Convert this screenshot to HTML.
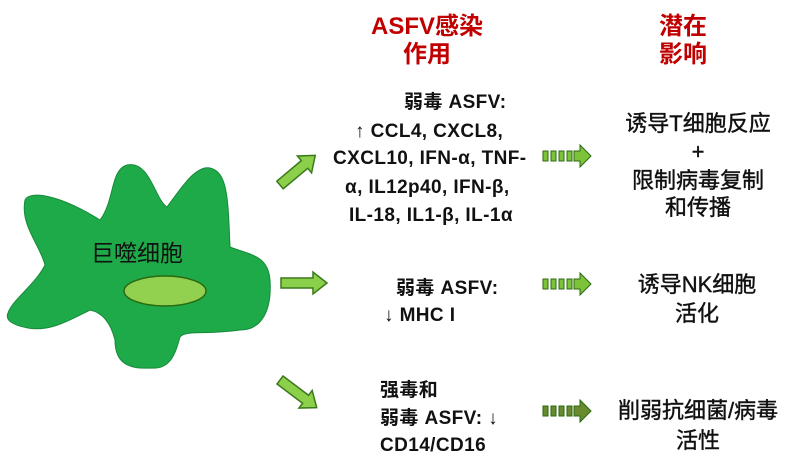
<!DOCTYPE html>
<html><head><meta charset="utf-8"><style>
html,body{margin:0;padding:0;background:#fff;}
svg{display:block;}
text{font-family:"Liberation Sans","Noto Sans CJK SC",sans-serif;}
.b{font-weight:bold;font-size:19px;letter-spacing:0.4px;fill:#111;}
.r{font-weight:bold;font-size:24px;fill:#c00000;}
.c{font-size:22px;fill:#111;stroke:#111;stroke-width:0.4px;}
</style></head><body>
<svg width="800" height="455" viewBox="0 0 800 455" xmlns="http://www.w3.org/2000/svg">
<defs>
<g id="da">
<rect x="0" y="-5" width="5" height="10" fill="currentColor" stroke="#2a6a10" stroke-width="1"/>
<rect x="8" y="-5" width="5" height="10" fill="currentColor" stroke="#2a6a10" stroke-width="1"/>
<rect x="16" y="-5" width="5" height="10" fill="currentColor" stroke="#2a6a10" stroke-width="1"/>
<rect x="24" y="-5" width="5" height="10" fill="currentColor" stroke="#2a6a10" stroke-width="1"/>
<path d="M31,-5 L37,-5 L37,-11 L48,0 L37,11 L37,5 L31,5 Z" fill="currentColor" stroke="#2a6a10" stroke-width="1"/>
</g>
<g id="ar">
<path d="M0,-5 L32,-5 L32,-11 L46,0 L32,11 L32,5 L0,5 Z" fill="#8ccf4a" stroke="#3a7a1a" stroke-width="1.5"/>
</g>
</defs>
<path d="M8,313 C12,300 35,285 45,265 C40,245 20,225 25,200 C30,190 60,195 100,220 C115,200 110,170 127,165 C150,160 155,200 167,207 C180,190 195,165 210,168 C228,172 228,200 230,247 C250,255 268,255 270,280 C272,310 262,330 240,330 C205,335 185,330 180,337 C175,355 170,370 150,368 C120,370 115,355 115,340 C110,320 100,312 90,310 C70,320 50,332 28,328 C12,325 5,320 8,313 Z" fill="#1eaa48" stroke="#178a3a" stroke-width="1"/>
<ellipse cx="165" cy="291" rx="41" ry="15" fill="#92d050" stroke="#2a6a10" stroke-width="1.5"/>
<text x="91" y="261" style="font-size:23px;fill:#111;">巨噬细胞</text>
<use href="#ar" transform="translate(280,185) rotate(-40)"/>
<use href="#ar" transform="translate(281,283)"/>
<use href="#ar" transform="translate(280,380) rotate(37)"/>
<use href="#da" transform="translate(543,156)" style="color:#7cc33a"/>
<use href="#da" transform="translate(543,284)" style="color:#7cc33a"/>
<use href="#da" transform="translate(543,411)" style="color:#6a8a30"/>
<text class="r" x="427" y="34" text-anchor="middle">ASFV感染</text>
<text class="r" x="427" y="62" text-anchor="middle">作用</text>
<text class="r" x="683" y="34" text-anchor="middle">潜在</text>
<text class="r" x="683" y="62" text-anchor="middle">影响</text>
<text class="b" x="404" y="108">弱毒 ASFV:</text>
<text class="b" x="355" y="137">↑ CCL4, CXCL8,</text>
<text class="b" x="333" y="164">CXCL10, IFN-α, TNF-</text>
<text class="b" x="345" y="193">α,  IL12p40, IFN-β,</text>
<text class="b" x="349" y="221">IL-18, IL1-β, IL-1α</text>
<text class="b" x="396" y="294">弱毒 ASFV:</text>
<text class="b" x="384" y="321">↓ MHC I</text>
<text class="b" x="380" y="396">强毒和</text>
<text class="b" x="380" y="424">弱毒 ASFV: ↓</text>
<text class="b" x="380" y="451">CD14/CD16</text>
<text class="c" x="698" y="131" text-anchor="middle">诱导T细胞反应</text>
<text class="c" x="698" y="159" text-anchor="middle">+</text>
<text class="c" x="698" y="188" text-anchor="middle">限制病毒复制</text>
<text class="c" x="698" y="215" text-anchor="middle">和传播</text>
<text class="c" x="697" y="292" text-anchor="middle">诱导NK细胞</text>
<text class="c" x="697" y="321" text-anchor="middle">活化</text>
<text class="c" x="698" y="418" text-anchor="middle">削弱抗细菌/病毒</text>
<text class="c" x="698" y="448" text-anchor="middle">活性</text>
</svg>
</body></html>
